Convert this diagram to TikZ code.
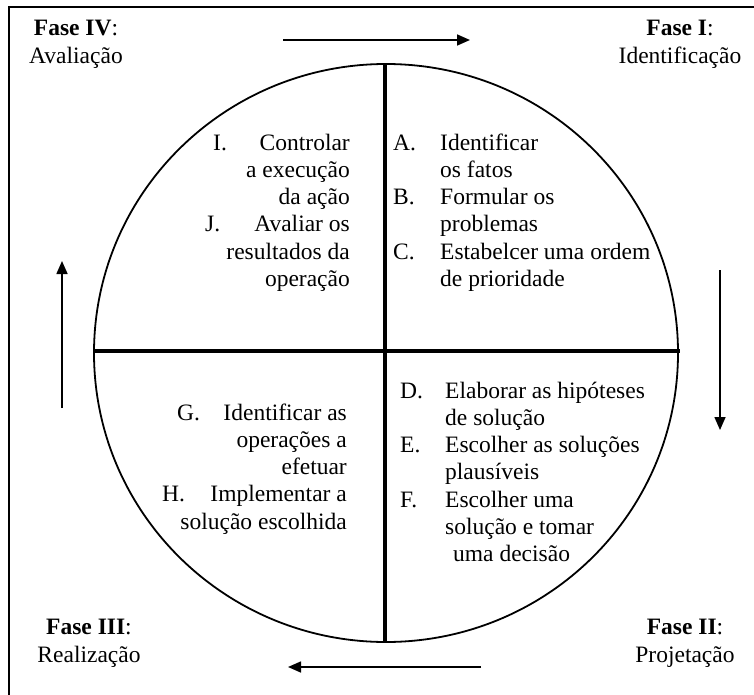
\documentclass[tikz,border=0pt]{standalone}
\usepackage{fontspec}
\setmainfont{Liberation Serif}
\usetikzlibrary{arrows.meta}
\begin{document}
\begin{tikzpicture}[x=1pt,y=-1pt,
  txt/.style={inner sep=0pt,font=\fontsize{23.5}{27.3}\selectfont},
  lab/.style={txt,anchor=base west},
  rtx/.style={txt,anchor=base east},
  ltx/.style={txt,anchor=base west},
  phase/.style={inner sep=0pt,align=center,font=\fontsize{23.5}{28}\selectfont},
  flow/.style={line width=1.6pt,-{Triangle[length=13pt,width=11pt]}},
  cross/.style={line width=3.2pt},
  rim/.style={line width=1.8pt}]
\useasboundingbox (0,0) rectangle (754,695);
% frame
\draw[line width=2.2pt] (9,695) -- (9,7) -- (754,7);
% circle
\coordinate (c) at (386,353);
\draw[rim] (c) ellipse [x radius=292, y radius=289];
\coordinate (ctop) at (385,64);
\coordinate (cbot) at (385,642);
\coordinate (cleft) at (95,351);
\coordinate (cright) at (680,351);
\draw[cross] (ctop) -- (cbot);
\draw[cross] (cleft) -- (cright);
% phase labels
\node[phase] (f4) at (76,44) {\textbf{Fase IV}:\\Avaliação};
\node[phase] (f1) at (680,44) {\textbf{Fase I}:\\Identificação};
\node[phase] (f3) at (89,643) {\textbf{Fase III}:\\Realização};
\node[phase] (f2) at (685,643) {\textbf{Fase II}:\\Projetação};
% arrows
\coordinate (a1s) at (283,40); \coordinate (a1e) at (470,40);
\coordinate (a2s) at (720,270); \coordinate (a2e) at (720,430);
\coordinate (a3s) at (481,667); \coordinate (a3e) at (288,667);
\coordinate (a4s) at (62,408); \coordinate (a4e) at (62,261);
\draw[flow] (a1s) -- (a1e);
\draw[flow] (a2s) -- (a2e);
\draw[flow] (a3s) -- (a3e);
\draw[flow] (a4s) -- (a4e);
% upper right
\node[lab] (lA) at (393,150) {A.};
\node[ltx] (tA1) at (440,150) {Identificar};
\node[ltx] (tA2) at (440,177.3) {os fatos};
\node[lab] (lB) at (393,204.6) {B.};
\node[ltx] (tB1) at (440,204.6) {Formular os};
\node[ltx] (tB2) at (440,231.9) {problemas};
\node[lab] (lC) at (393,259.2) {C.};
\node[ltx] (tC1) at (440,259.2) {Estabelcer uma ordem};
\node[ltx] (tC2) at (440,286.5) {de prioridade};
% upper left
\node[lab] (lI) at (213,150) {I.};
\node[rtx] (tI1) at (350,150) {Controlar};
\node[rtx] (tI2) at (350,177.3) {a execução};
\node[rtx] (tI3) at (350,204.6) {da ação};
\node[lab] (lJ) at (205,231.9) {J.};
\node[rtx] (tJ1) at (350,231.9) {Avaliar os};
\node[rtx] (tJ2) at (350,259.2) {resultados da};
\node[rtx] (tJ3) at (350,286.5) {operação};
% lower right
\node[lab] (lD) at (400,398) {D.};
\node[ltx] (tD1) at (445,398) {Elaborar as hipóteses};
\node[ltx] (tD2) at (445,425.3) {de solução};
\node[lab] (lE) at (400,452.6) {E.};
\node[ltx] (tE1) at (445,452.6) {Escolher as soluções};
\node[ltx] (tE2) at (445,479.9) {plausíveis};
\node[lab] (lF) at (400,507.2) {F.};
\node[ltx] (tF1) at (445,507.2) {Escolher uma};
\node[ltx] (tF2) at (445,534.5) {solução e tomar};
\node[ltx] (tF3) at (453,561.8) {uma decisão};
% lower left
\node[lab] (lG) at (177,420) {G.};
\node[rtx] (tG1) at (347,420) {Identificar as};
\node[rtx] (tG2) at (347,447.3) {operações a};
\node[rtx] (tG3) at (347,474.6) {efetuar};
\node[lab] (lH) at (162,501.9) {H.};
\node[rtx] (tH1) at (347,501.9) {Implementar a};
\node[rtx] (tH2) at (347,529.2) {solução escolhida};
\end{tikzpicture}
\end{document}
